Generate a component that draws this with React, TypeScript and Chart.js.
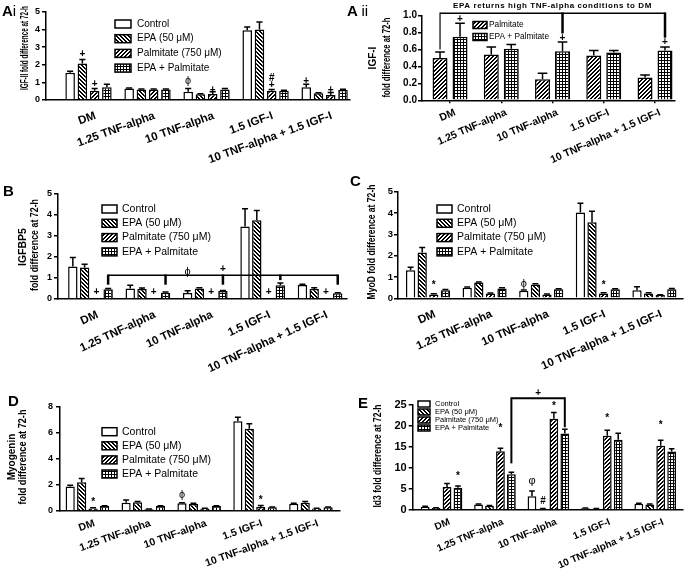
import React, { useEffect, useRef } from 'react';
import { Chart, registerables } from 'chart.js';

Chart.register(...registerables);

const FONT = '"Liberation Sans", Arial, Helvetica, sans-serif';

// ---------- data ----------
const CATEGORIES = ['DM', '1.25 TNF-alpha', '10 TNF-alpha', '1.5 IGF-I', '10 TNF-alpha + 1.5 IGF-I'];
const SERIES_FOUR = ['Control', 'EPA (50 μM)', 'Palmitate (750 μM)', 'EPA + Palmitate'];
const SERIES_TWO = ['Palmitate', 'EPA + Palmitate'];

// Ai  IGF-II
const AI_CONTROL = [1.55, 0.65, 0.47, 3.96, 0.72];
const AI_EPA = [2.08, 0.6, 0.32, 4.0, 0.38];
const AI_PALM = [0.53, 0.6, 0.34, 0.53, 0.28];
const AI_BOTH = [0.72, 0.6, 0.6, 0.53, 0.57];
const AI_SEM = [
  [0.09, 0.03, 0.19, 0.19, 0.18],
  [0.22, 0.03, 0.03, 0.43, 0.03],
  [0.13, 0.03, 0.13, 0.07, 0.14],
  [0.17, 0.03, 0.05, 0.03, 0.04],
];
const AI_MARKS: [number, number, string, number][] = [
  [1, 0, '+', 2.6], [2, 0, '+', 0.88], [0, 2, 'ϕ', 1.1], [2, 2, '+', 0.58],
  [2, 3, '#', 1.25], [2, 3, '+', 0.82], [0, 4, '+', 1.07], [2, 4, '+', 0.55],
];

// Aii IGF-I
const AII_PALM = [0.5, 0.54, 0.25, 0.53, 0.27];
const AII_BOTH = [0.75, 0.61, 0.58, 0.565, 0.59];
const AII_SEM = [
  [0.07, 0.09, 0.07, 0.06, 0.03],
  [0.16, 0.05, 0.11, 0.025, 0.04],
];
const AII_MARKS: [number, number, string, number][] = [[1, 0, '+', 0.96], [1, 2, '+', 0.73], [1, 4, '+', 0.69]];
const AII_BRACKET_LEVEL = 1.03;
const AII_BRACKET_DROPS: [number, number, number][] = [[0, 0, 0.6], [1, 2, 0.79], [1, 4, 0.74]];
const AII_BRACKET_NOTE = 'EPA returns high TNF-alpha conditions to DM';

// B IGFBP5
const B_CONTROL = [1.55, 0.5, 0.29, 3.45, 0.67];
const B_EPA = [1.5, 0.48, 0.5, 3.75, 0.48];
const B_PALM = [0.03, 0.03, 0.03, 0.03, 0.03];
const B_BOTH = [0.46, 0.3, 0.38, 0.66, 0.27];
const B_SEM = [
  [0.43, 0.15, 0.1, 0.85, 0.03],
  [0.16, 0.04, 0.03, 0.47, 0.05],
  [0, 0, 0, 0, 0],
  [0.04, 0.03, 0.03, 0.1, 0.03],
];
const B_MARKS: [number, number, string, number][] = [
  [2, 0, '+', 0.3], [2, 1, '+', 0.3], [2, 2, '+', 0.3], [2, 3, '+', 0.3], [2, 4, '+', 0.3],
  [0, 2, 'ϕ', 1.3], [3, 2, '+', 1.42],
];
const B_BRACKET_LEVEL = 1.13;
const B_BRACKET_DROPS: [number, number, number][] = [[3, 0, 0.68], [3, 1, 0.68], [3, 2, 0.68], [3, 3, 0.9], [3, 4, 0.68]];

// C MyoD
const C_CONTROL = [1.31, 0.5, 0.35, 4.03, 0.38];
const C_EPA = [2.15, 0.74, 0.65, 3.57, 0.23];
const C_PALM = [0.18, 0.23, 0.18, 0.23, 0.15];
const C_BOTH = [0.38, 0.46, 0.42, 0.42, 0.43];
const C_SEM = [
  [0.15, 0.03, 0.04, 0.43, 0.16],
  [0.23, 0.03, 0.03, 0.51, 0.03],
  [0.03, 0.02, 0.02, 0.03, 0.02],
  [0.03, 0.03, 0.03, 0.03, 0.03],
];
const C_MARKS: [number, number, string, number][] = [[2, 0, '*', 0.62], [0, 2, 'ϕ', 0.68], [2, 3, '*', 0.62]];

// D Myogenin
const D_CONTROL = [1.87, 0.64, 0.59, 6.87, 0.56];
const D_EPA = [2.2, 0.67, 0.54, 6.3, 0.64];
const D_PALM = [0.2, 0.13, 0.2, 0.3, 0.2];
const D_BOTH = [0.38, 0.38, 0.38, 0.28, 0.28];
const D_SEM = [
  [0.1, 0.2, 0.05, 0.3, 0.04],
  [0.28, 0.05, 0.05, 0.37, 0.08],
  [0.05, 0.02, 0.02, 0.12, 0.02],
  [0.03, 0.03, 0.03, 0.03, 0.03],
];
const D_MARKS: [number, number, string, number][] = [[2, 0, '*', 0.65], [0, 2, 'ϕ', 1.25], [2, 3, '*', 0.8]];

// E Id3
const E_CONTROL = [0.8, 1.3, 3.3, 0.4, 1.5];
const E_EPA = [0.5, 1.0, 0.3, 0.3, 1.3];
const E_PALM = [5.5, 14.0, 21.7, 17.7, 15.3];
const E_BOTH = [5.3, 8.5, 18.2, 16.7, 13.9];
const E_SEM = [
  [0.1, 0.1, 1.2, 0.05, 0.1],
  [0.05, 0.1, 0.05, 0.05, 0.1],
  [0.8, 0.7, 1.5, 1.3, 1.3],
  [0.4, 0.5, 1.0, 1.6, 0.7],
];
const E_MARKS: [number, number, string, number][] = [
  [3, 0, '*', 8.0], [2, 1, '*', 19.5], [0, 2, 'φ', 7.0], [1, 2, '#', 2.0],
  [2, 2, '*', 24.8], [2, 3, '*', 21.8], [2, 4, '*', 20.2],
];
const E_BRACKET_LEVEL = 26.6;
const E_BRACKET_DROPS: [number, number, number][] = [[3, 1, 11.1], [3, 2, 19.7]];

// ---------- styling / layout ----------
type Bracket = { level: number; drops: [number, number, number][]; lw: number; dropW: number[]; note?: string; noteLevel?: number; noteFont?: string; noteSpacing?: string };
type TitleLine = { text: string; x: number; y: number; len?: number; size: number };
type PanelSpec = {
  left: number; top: number; width: number; height: number;
  padTop: number; padRight: number; yWidth: number; xHeight: number;
  xMin: number; xMax: number; yMax: number; yStep: number; yDecimals: number;
  yFont: number; yPad: number; xFont: number; xPad: number; xShift: number; rotation: number; xTickMarks: boolean;
  catPct: number; barPct: number;
  series: string[]; styles: string[]; means: number[][]; sem: number[][];
  marks: [number, number, string, number][]; brackets: Bracket[]; titles: TitleLine[];
  legend: { x: number; y: number; dy: number; w: number; h: number; tx: number; size: number };
};

const STYLES_FOUR = ['control', 'epa', 'palm', 'both'];

const PANELS: PanelSpec[] = [
  {
    left: 0, top: 0, width: 352, height: 185, padTop: 12, padRight: 2, yWidth: 46, xHeight: 85,
    xMin: -0.72, xMax: 4.43, yMax: 5, yStep: 1, yDecimals: 0, yFont: 9, yPad: 2, xFont: 11.5, xPad: 6, xShift: 7, rotation: 20, xTickMarks: false,
    catPct: 0.83, barPct: 0.78, series: SERIES_FOUR, styles: STYLES_FOUR,
    means: [AI_CONTROL, AI_EPA, AI_PALM, AI_BOTH], sem: AI_SEM, marks: AI_MARKS, brackets: [],
    titles: [{ text: 'IGF-II fold difference at 72-h', x: 25, y: 48, len: 84, size: 10 }],
    legend: { x: 115, y: 24, dy: 14.7, w: 16, h: 8, tx: 137, size: 10 },
  },
  {
    left: 340, top: 0, width: 345, height: 185, padTop: 15.7, padRight: 10, yWidth: 82, xHeight: 84.7,
    xMin: -0.547, xMax: 4.39, yMax: 1, yStep: 0.2, yDecimals: 1, yFont: 10, yPad: 1, xFont: 10.5, xPad: 4, xShift: 5, rotation: 24, xTickMarks: true,
    catPct: 0.78, barPct: 0.75, series: SERIES_TWO, styles: ['palm', 'both'],
    means: [AII_PALM, AII_BOTH], sem: AII_SEM, marks: AII_MARKS,
    brackets: [{ level: AII_BRACKET_LEVEL, drops: AII_BRACKET_DROPS, lw: 1.5, dropW: [1.2, 2.5, 2.5], note: AII_BRACKET_NOTE, noteLevel: 1.12, noteFont: `bold 8px ${FONT}`, noteSpacing: '0.6px' }],
    titles: [
      { text: 'IGF-I', x: 33, y: 58, size: 10 },
      { text: 'fold difference at 72-h', x: 47, y: 57.5, len: 80, size: 10 },
    ],
    legend: { x: 133, y: 25, dy: 12, w: 14, h: 7, tx: 149, size: 8.3 },
  },
  {
    left: 0, top: 185, width: 350, height: 190, padTop: 9, padRight: 3, yWidth: 58, xHeight: 76,
    xMin: -0.566, xMax: 4.469, yMax: 5, yStep: 1, yDecimals: 0, yFont: 9, yPad: 2, xFont: 11.5, xPad: 6, xShift: 7, rotation: 25, xTickMarks: false,
    catPct: 0.82, barPct: 0.8, series: SERIES_FOUR, styles: STYLES_FOUR,
    means: [B_CONTROL, B_EPA, B_PALM, B_BOTH], sem: B_SEM, marks: B_MARKS,
    brackets: [{ level: B_BRACKET_LEVEL, drops: B_BRACKET_DROPS, lw: 1.5, dropW: [2.5, 2.5, 2.5, 2.5, 2.5] }],
    titles: [
      { text: 'IGFBP5', x: 23, y: 62, size: 10.5 },
      { text: 'fold difference at 72-h', x: 35, y: 60, len: 92, size: 10.5 },
    ],
    legend: { x: 102, y: 24, dy: 14.3, w: 15, h: 8, tx: 122, size: 10.5 },
  },
  {
    left: 340, top: 185, width: 345, height: 190, padTop: 6, padRight: 2, yWidth: 58, xHeight: 76.7,
    xMin: -0.53, xMax: 4.505, yMax: 5, yStep: 1, yDecimals: 0, yFont: 9.5, yPad: 1, xFont: 11.5, xPad: 6, xShift: 7, rotation: 24, xTickMarks: false,
    catPct: 0.82, barPct: 0.8, series: SERIES_FOUR, styles: STYLES_FOUR,
    means: [C_CONTROL, C_EPA, C_PALM, C_BOTH], sem: C_SEM, marks: C_MARKS, brackets: [],
    titles: [{ text: 'MyoD fold difference at 72-h', x: 32, y: 57, len: 115, size: 11 }],
    legend: { x: 97, y: 24, dy: 14.3, w: 15, h: 8, tx: 117, size: 10.5 },
  },
  {
    left: 0, top: 375, width: 345, height: 194, padTop: 31.5, padRight: 5, yWidth: 60, xHeight: 58,
    xMin: -0.49, xMax: 4.52, yMax: 8, yStep: 2, yDecimals: 0, yFont: 9, yPad: 3, xFont: 10.5, xPad: 3, xShift: 7, rotation: 20, xTickMarks: false,
    catPct: 0.82, barPct: 0.8, series: SERIES_FOUR, styles: STYLES_FOUR,
    means: [D_CONTROL, D_EPA, D_PALM, D_BOTH], sem: D_SEM, marks: D_MARKS, brackets: [],
    titles: [
      { text: 'Myogenin', x: 12, y: 82, size: 10 },
      { text: 'fold difference at 72-h', x: 23, y: 82, len: 95, size: 10 },
    ],
    legend: { x: 102, y: 56.7, dy: 14.1, w: 15, h: 8, tx: 122, size: 10.5 },
  },
  {
    left: 340, top: 375, width: 345, height: 194, padTop: 30, padRight: 2, yWidth: 72.7, xHeight: 59,
    xMin: -0.54, xMax: 4.52, yMax: 25, yStep: 5, yDecimals: 0, yFont: 11, yPad: 2, xFont: 10, xPad: 3, xShift: 8, rotation: 23, xTickMarks: false,
    catPct: 0.82, barPct: 0.8, series: SERIES_FOUR, styles: STYLES_FOUR,
    means: [E_CONTROL, E_EPA, E_PALM, E_BOTH], sem: E_SEM, marks: E_MARKS,
    brackets: [{ level: E_BRACKET_LEVEL, drops: E_BRACKET_DROPS, lw: 2, dropW: [2, 2], note: '+', noteLevel: 27.9, noteFont: `bold 10px ${FONT}` }],
    titles: [{ text: 'Id3 fold difference at 72-h', x: 38, y: 81, len: 103, size: 11 }],
    legend: { x: 78, y: 29, dy: 8, w: 12, h: 6, tx: 95, size: 7.5 },
  },
];

function makeFill(kind: string): string | CanvasPattern {
  if (kind === 'control') return '#ffffff';
  const n = kind === 'both' ? 3 : 4;
  const c = document.createElement('canvas');
  c.width = n; c.height = n;
  const g = c.getContext('2d')!;
  g.fillStyle = kind === 'both' ? '#000' : '#fff';
  g.fillRect(0, 0, n, n);
  for (let x = 0; x < n; x++) {
    for (let y = 0; y < n; y++) {
      if (kind === 'epa' && ((x - y + n) % n) < 2) { g.fillStyle = '#000'; g.fillRect(x, y, 1, 1); }
      if (kind === 'palm' && ((x + y) % n) < 2) { g.fillStyle = '#000'; g.fillRect(x, y, 1, 1); }
      if (kind === 'both' && x >= 1 && y >= 1) { g.fillStyle = '#fff'; g.fillRect(x, y, 1, 1); }
    }
  }
  return g.createPattern(c, 'repeat') || '#888';
}

function makePlugin(spec: PanelSpec, fills: (string | CanvasPattern)[]) {
  return {
    id: 'panelExtras',
    afterDatasetsDraw(chart: any) {
      const ctx: CanvasRenderingContext2D = chart.ctx;
      const ys = chart.scales.y;
      ctx.save();
      ctx.strokeStyle = '#000';
      ctx.lineWidth = 1.5;
      spec.sem.forEach((row, di) => {
        const meta = chart.getDatasetMeta(di);
        row.forEach((e, ci) => {
          const bar: any = meta.data[ci];
          if (!bar || e <= 0) return;
          const top = ys.getPixelForValue(spec.means[di][ci] + e);
          const half = bar.width * 0.32;
          ctx.beginPath();
          ctx.moveTo(bar.x, bar.y);
          ctx.lineTo(bar.x, top);
          ctx.moveTo(bar.x - half, top);
          ctx.lineTo(bar.x + half, top);
          ctx.stroke();
        });
      });
      ctx.restore();
    },
    afterDraw(chart: any) {
      const ctx: CanvasRenderingContext2D = chart.ctx;
      const ys = chart.scales.y;
      ctx.save();
      ctx.fillStyle = '#000';
      ctx.strokeStyle = '#000';
      // y titles
      spec.titles.forEach((t) => {
        ctx.save();
        ctx.translate(t.x, t.y);
        ctx.rotate(-Math.PI / 2);
        ctx.font = `bold ${t.size}px ${FONT}`;
        ctx.textAlign = 'center';
        ctx.textBaseline = 'middle';
        if (t.len) ctx.fillText(t.text, 0, 0, t.len); else ctx.fillText(t.text, 0, 0);
        ctx.restore();
      });
      // brackets
      spec.brackets.forEach((b) => {
        const pts = b.drops.map(([di, ci, end]) => ({ x: chart.getDatasetMeta(di).data[ci].x, yEnd: ys.getPixelForValue(end) }));
        const yl = ys.getPixelForValue(b.level);
        ctx.lineWidth = b.lw;
        ctx.beginPath();
        ctx.moveTo(pts[0].x, yl);
        ctx.lineTo(pts[pts.length - 1].x, yl);
        ctx.stroke();
        pts.forEach((p, i) => {
          ctx.lineWidth = b.dropW[i];
          ctx.beginPath();
          ctx.moveTo(p.x, yl - b.lw / 2);
          ctx.lineTo(p.x, p.yEnd);
          ctx.stroke();
        });
        if (b.note) {
          ctx.save();
          ctx.font = b.noteFont || `bold 9px ${FONT}`;
          if (b.noteSpacing) (ctx as any).letterSpacing = b.noteSpacing;
          ctx.textAlign = 'center';
          ctx.textBaseline = 'middle';
          ctx.fillText(b.note, (pts[0].x + pts[pts.length - 1].x) / 2, ys.getPixelForValue(b.noteLevel ?? b.level));
          ctx.restore();
        }
      });
      // significance marks
      spec.marks.forEach(([di, ci, sym, v]) => {
        const bar: any = chart.getDatasetMeta(di).data[ci];
        if (!bar) return;
        ctx.font = sym === 'ϕ' || sym === 'φ' ? `11px ${FONT}` : `bold 10px ${FONT}`;
        ctx.textAlign = 'center';
        ctx.textBaseline = 'middle';
        ctx.fillText(sym, bar.x, ys.getPixelForValue(v));
      });
      // legend
      const L = spec.legend;
      spec.series.forEach((label, i) => {
        const cy = L.y + i * L.dy;
        ctx.fillStyle = fills[i] as any;
        ctx.fillRect(L.x, cy - L.h / 2, L.w, L.h);
        ctx.lineWidth = 1.5;
        ctx.strokeStyle = '#000';
        ctx.strokeRect(L.x, cy - L.h / 2, L.w, L.h);
        ctx.fillStyle = '#000';
        ctx.font = `${L.size}px ${FONT}`;
        ctx.textAlign = 'left';
        ctx.textBaseline = 'middle';
        ctx.fillText(label, L.tx, cy);
      });
      ctx.restore();
    },
  };
}

function Panel({ spec }: { spec: PanelSpec }) {
  const ref = useRef<HTMLCanvasElement>(null);
  useEffect(() => {
    if (!ref.current) return;
    const fills = spec.styles.map(makeFill);
    const chart = new Chart(ref.current, {
      type: 'bar',
      data: {
        datasets: spec.series.map((label, di) => ({
          label,
          data: spec.means[di].map((v, ci) => ({ x: ci, y: v })),
          backgroundColor: fills[di] as any,
          borderColor: '#000',
          borderWidth: 1.5,
          categoryPercentage: spec.catPct,
          barPercentage: spec.barPct,
        })),
      },
      options: {
        responsive: false,
        animation: false,
        events: [],
        layout: { padding: { top: spec.padTop, right: spec.padRight, left: 0, bottom: 0 }, autoPadding: false } as any,
        plugins: { legend: { display: false }, tooltip: { enabled: false } },
        scales: {
          x: {
            type: 'linear',
            min: spec.xMin,
            max: spec.xMax,
            offset: false,
            bounds: 'data',
            afterBuildTicks: (s: any) => { s.ticks = CATEGORIES.map((_, i) => ({ value: i })); },
            afterFit: (s: any) => { s.height = spec.xHeight; },
            grid: { display: spec.xTickMarks, drawOnChartArea: false, drawTicks: true, tickLength: 3, color: '#000', lineWidth: 1.5, offset: false },
            border: { display: true, color: '#000', width: 1.5 },
            ticks: {
              autoSkip: false,
              maxRotation: spec.rotation,
              minRotation: spec.rotation,
              padding: spec.xTickMarks ? 3 : spec.xPad,
              labelOffset: spec.xShift,
              color: '#000',
              font: { family: FONT, size: spec.xFont, weight: 'bold' },
              callback: (v: any) => CATEGORIES[Math.round(Number(v))] ?? '',
            },
          } as any,
          y: {
            type: 'linear',
            min: 0,
            max: spec.yMax,
            afterFit: (s: any) => { s.width = spec.yWidth; },
            grid: { display: true, drawOnChartArea: false, drawTicks: true, tickLength: 4, color: '#000', lineWidth: 1.5 },
            border: { display: true, color: '#000', width: 1.5 },
            ticks: {
              stepSize: spec.yStep,
              padding: spec.yPad,
              color: '#000',
              font: { family: FONT, size: spec.yFont, weight: 'bold' },
              callback: (v: any) => Number(v).toFixed(spec.yDecimals),
            },
          } as any,
        },
      },
      plugins: [makePlugin(spec, fills) as any],
    });
    return () => chart.destroy();
  }, [spec]);
  return (
    <canvas
      ref={ref}
      width={spec.width}
      height={spec.height}
      style={{ position: 'absolute', left: spec.left, top: spec.top, width: spec.width, height: spec.height }}
    />
  );
}

const letter = (left: number, top: number): React.CSSProperties => ({
  position: 'absolute', left, top, font: `bold 15px ${FONT}`, lineHeight: '15px', color: '#000', whiteSpace: 'nowrap',
});

export default function App() {
  return (
    <div style={{ position: 'absolute', left: 0, top: 0, width: 685, height: 569, background: '#fff', overflow: 'hidden' }}>
      {PANELS.map((p, i) => <Panel key={i} spec={p} />)}
      <div style={letter(2, 3)}>A<span style={{ fontWeight: 'normal' }}>i</span></div>
      <div style={letter(347, 3)}>A <span style={{ fontWeight: 'normal' }}>ii</span></div>
      <div style={letter(3, 183)}>B</div>
      <div style={letter(350, 173)}>C</div>
      <div style={letter(8, 393)}>D</div>
      <div style={letter(358, 395)}>E</div>
    </div>
  );
}
